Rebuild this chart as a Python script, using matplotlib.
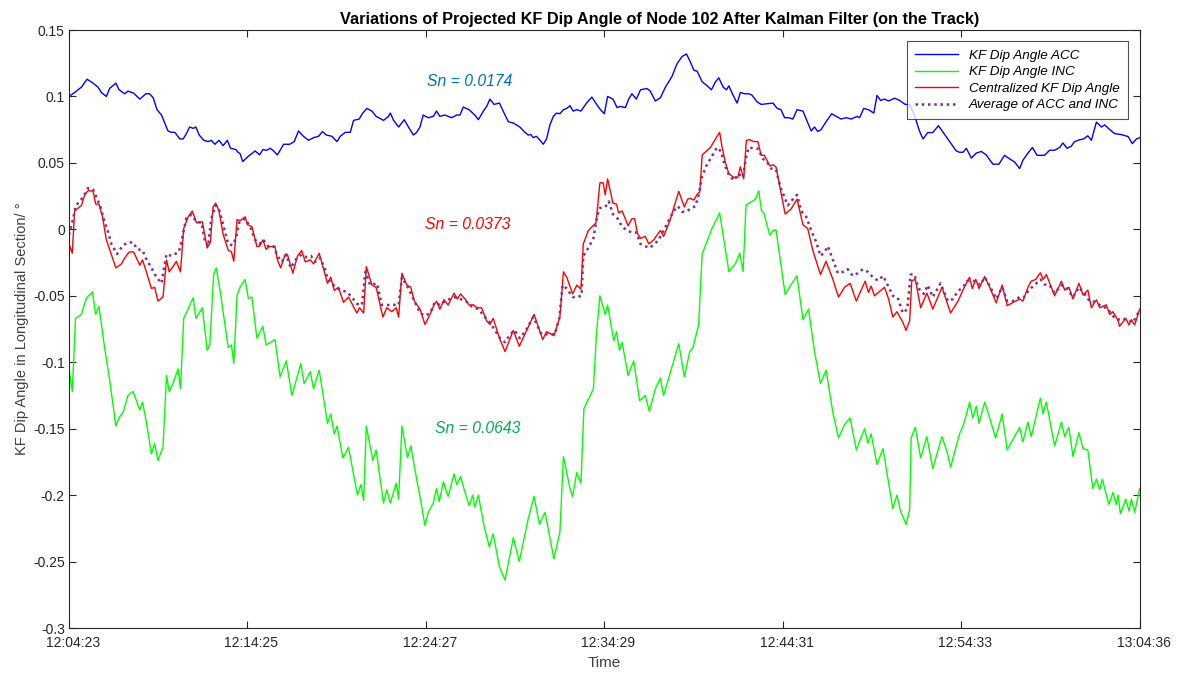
import matplotlib
matplotlib.use('Agg')
import matplotlib.pyplot as plt
import matplotlib.dates as mdates
import matplotlib.transforms as mtransforms
from datetime import datetime, timedelta

# seconds after 12:04:23
acc_t = [0, 19, 42, 61, 81, 98, 109, 126, 137, 158, 169, 188, 199, 218, 239, 259, 272, 284, 297, 312,
         334, 345, 357, 374, 385, 396, 407, 419, 428, 439, 455, 469, 480, 492, 506, 520, 534, 545, 563, 570,
         577, 586, 605, 628, 643, 654, 667, 679, 690, 703, 724, 744, 760, 774, 791, 808, 825, 842, 855, 868,
         887, 904, 915, 932, 949, 960, 979, 991, 1005, 1022, 1036, 1061, 1078, 1084, 1095, 1112, 1131, 1145, 1162, 1173,
         1184, 1195, 1212, 1229, 1240, 1251, 1268, 1291, 1308, 1319, 1330, 1350, 1369, 1381, 1398, 1409, 1420, 1434, 1452, 1471,
         1482, 1499, 1521, 1538, 1549, 1558, 1566, 1577, 1589, 1600, 1611, 1623, 1634, 1645, 1656, 1668, 1679, 1690, 1701, 1713,
         1727, 1746, 1764, 1777,
         1793, 1806, 1817, 1835, 1849, 1860, 1877, 1888, 1899, 1914, 1928, 1950, 1961, 1978, 1995, 2012, 2034, 2051, 2068, 2083,
         2094, 2108, 2119, 2136, 2153, 2167, 2181, 2192, 2207, 2218, 2226, 2240, 2254, 2265, 2280, 2293, 2304, 2321, 2335, 2355,
         2375, 2389,
         2402, 2414, 2427, 2442, 2456, 2476, 2487, 2504, 2515, 2526, 2537, 2554, 2573, 2588, 2605, 2622, 2639, 2659, 2667, 2681,
         2697, 2715, 2726, 2738, 2751, 2765, 2785, 2802, 2821, 2836, 2852, 2869, 2881, 2897, 2914, 2933, 2954, 2971, 2993, 3004,
         3016, 3027, 3044, 3061, 3078, 3094, 3117, 3137, 3156, 3173, 3190, 3207, 3218, 3235, 3250, 3266, 3291, 3308, 3325, 3342,
         3353, 3367, 3381, 3392, 3409, 3423, 3437, 3449, 3466, 3483, 3494, 3511, 3528, 3550, 3573, 3587, 3601, 3612]
acc_v = [0.100, 0.103, 0.107, 0.113, 0.110, 0.107, 0.103, 0.100, 0.106, 0.110, 0.105, 0.102, 0.104, 0.1025, 0.098, 0.102, 0.102, 0.099, 0.090, 0.086,
         0.074, 0.073, 0.073, 0.068, 0.068, 0.072, 0.077, 0.076, 0.077, 0.071, 0.067, 0.066, 0.067, 0.064, 0.067, 0.063, 0.067, 0.061, 0.060, 0.058,
         0.057, 0.051, 0.055, 0.059, 0.056, 0.060, 0.0595, 0.061, 0.059, 0.056, 0.064, 0.064, 0.066, 0.074, 0.070, 0.067, 0.069, 0.070, 0.0736, 0.071,
         0.070, 0.066, 0.070, 0.073, 0.073, 0.082, 0.083, 0.0875, 0.091, 0.089, 0.085, 0.082, 0.085, 0.0875, 0.082, 0.077, 0.0825, 0.077, 0.071, 0.073,
         0.077, 0.086, 0.084, 0.085, 0.089, 0.085, 0.086, 0.084, 0.086, 0.086, 0.092, 0.090, 0.086, 0.0825, 0.089, 0.0925, 0.098, 0.094, 0.095, 0.086,
         0.081, 0.080, 0.077, 0.073, 0.071, 0.0713, 0.069, 0.070, 0.067, 0.064, 0.068, 0.079, 0.085, 0.0875, 0.087, 0.090, 0.091, 0.093, 0.089, 0.090,
         0.089, 0.095, 0.0995, 0.095,
         0.090, 0.087, 0.100, 0.098, 0.0916, 0.0925, 0.0916, 0.098, 0.102, 0.098, 0.105, 0.106, 0.104, 0.0966, 0.099, 0.107, 0.115, 0.1245, 0.130, 0.132,
         0.127, 0.1197, 0.119, 0.111, 0.108, 0.105, 0.111, 0.114, 0.107, 0.105, 0.108, 0.101, 0.095, 0.103, 0.102, 0.102, 0.101, 0.096, 0.094, 0.0945,
         0.095, 0.091,
         0.090, 0.084, 0.084, 0.083, 0.090, 0.089, 0.083, 0.074, 0.077, 0.0736, 0.075, 0.081, 0.087, 0.085, 0.083, 0.084, 0.083, 0.085, 0.084, 0.091,
         0.090, 0.0875, 0.1008, 0.097, 0.098, 0.0966, 0.0987, 0.097, 0.094, 0.094, 0.086, 0.074, 0.068, 0.0728, 0.0728, 0.078, 0.0713, 0.066, 0.059, 0.058,
         0.058, 0.061, 0.0536, 0.0574, 0.0586, 0.056, 0.049, 0.049, 0.0557, 0.053, 0.0507, 0.0457, 0.052, 0.0574, 0.0616, 0.0557, 0.0557, 0.0595, 0.0595, 0.0616,
         0.065, 0.061, 0.0625, 0.066, 0.0674, 0.068, 0.0704, 0.067, 0.0807, 0.077, 0.0786, 0.075, 0.072, 0.0713, 0.0698, 0.0645, 0.068, 0.069]

inc_t = [0, 11, 22, 42, 58, 79, 90, 101, 120, 137, 158, 171, 182, 199, 216, 239, 248, 261, 278, 289,
         300, 317, 329, 338, 351, 368, 376, 387, 402, 419, 428, 450, 466, 475, 488, 497, 511, 537, 548, 556, 567,
         577, 594, 605, 617, 634, 654, 665, 695, 712, 733, 752, 782, 793, 814, 825, 844, 872, 883, 895, 904,
         924, 943, 973, 985, 994, 1003, 1025, 1036, 1061, 1072, 1084, 1104, 1112, 1123, 1142, 1153, 1176,
         1184, 1201, 1212, 1229, 1240, 1249, 1263, 1279, 1299, 1308, 1321, 1336, 1350, 1362, 1369, 1381, 1400, 1418, 1431, 1452,
         1471, 1499, 1519, 1549, 1569, 1587, 1606, 1636, 1656, 1668, 1690, 1699, 1713, 1727, 1737, 1752, 1769, 1780, 1791,
         1809, 1817, 1838, 1847, 1857, 1866, 1886, 1905, 1925, 1944, 1958, 1978, 1995, 2006, 2027, 2057, 2076, 2094, 2105, 2124,
         2136, 2169, 2195, 2226, 2248, 2263, 2274, 2284, 2304, 2316, 2327, 2336, 2344, 2364, 2375, 2385,
         2416, 2436, 2456, 2476, 2495, 2515, 2535, 2554, 2577, 2596, 2616, 2635, 2656, 2684, 2695, 2706, 2726, 2746, 2779, 2793,
         2805, 2824, 2836, 2841, 2855, 2873, 2894, 2914, 2945, 2963, 2974, 3004,
         3016, 3029, 3038, 3049, 3061, 3070, 3089, 3106, 3126, 3148, 3165, 3207, 3218, 3235, 3246, 3277, 3286, 3297, 3325, 3348,
         3359, 3373, 3387, 3407, 3421, 3437, 3454, 3466, 3477, 3486, 3508, 3522, 3533, 3539, 3547, 3565, 3576, 3584, 3595, 3612]
inc_v = [-0.105, -0.122, -0.067, -0.064, -0.052, -0.047, -0.064, -0.058, -0.089, -0.113, -0.148, -0.141, -0.138, -0.125, -0.122, -0.136, -0.130, -0.145, -0.169, -0.161,
         -0.174, -0.164, -0.110, -0.122, -0.116, -0.105, -0.120, -0.067, -0.060, -0.0515, -0.067, -0.059, -0.091, -0.087, -0.034, -0.029, -0.048, -0.089, -0.087, -0.101, -0.0495,
         -0.0436, -0.0377, -0.052, -0.051, -0.082, -0.073, -0.087, -0.083, -0.111, -0.099, -0.125, -0.101, -0.116, -0.107, -0.120, -0.106, -0.146, -0.139, -0.154, -0.148,
         -0.172, -0.164, -0.200, -0.192, -0.204, -0.148, -0.174, -0.166, -0.206, -0.196, -0.206, -0.191, -0.203, -0.148, -0.172, -0.163, -0.192,
         -0.201, -0.223, -0.213, -0.206, -0.195, -0.205, -0.190, -0.201, -0.184, -0.192, -0.186, -0.198, -0.208, -0.200, -0.209, -0.200, -0.223, -0.239, -0.229, -0.254,
         -0.264, -0.232, -0.250, -0.218, -0.201, -0.222, -0.213, -0.248, -0.228, -0.171, -0.195, -0.201, -0.183, -0.191, -0.135, -0.128, -0.120, -0.077, -0.050,
         -0.064, -0.057, -0.084, -0.077, -0.091, -0.085, -0.110, -0.099, -0.129, -0.125, -0.137, -0.120, -0.112, -0.125, -0.109, -0.086, -0.111, -0.092, -0.089, -0.072,
         -0.0186, 0.0006, 0.0124, -0.0318, -0.026, -0.018, -0.0318, 0.0183, 0.021, 0.0227, 0.029, 0.0138, 0.0124, -0.0044, -0.0009, -0.0003,
         -0.049, -0.0415, -0.035, -0.068, -0.060, -0.092, -0.116, -0.106, -0.138, -0.157, -0.147, -0.142, -0.166, -0.150, -0.161, -0.154, -0.177, -0.165, -0.210, -0.200,
         -0.212, -0.222, -0.211, -0.157, -0.149, -0.172, -0.156, -0.180, -0.156, -0.168, -0.179, -0.154,
         -0.148, -0.138, -0.130, -0.142, -0.133, -0.146, -0.130, -0.142, -0.157, -0.139, -0.166, -0.149, -0.160, -0.145, -0.156, -0.127, -0.139, -0.130, -0.163, -0.145,
         -0.156, -0.149, -0.171, -0.153, -0.165, -0.166, -0.195, -0.188, -0.196, -0.188, -0.207, -0.198, -0.207, -0.200, -0.214, -0.203, -0.212, -0.203, -0.213, -0.195]

cen_t = [0, 11, 19, 42, 53, 64, 81, 90, 101, 113, 126, 137, 158, 177, 188, 203, 218, 239, 248, 261,
         278, 289, 300, 317, 329, 338, 351, 362, 376, 387, 402, 416, 430, 450, 466, 477, 486, 495, 506, 520,
         537, 548, 556, 567,
         577, 586, 594, 602, 617, 634, 643, 654, 665, 676, 695, 703, 714, 729, 737, 755, 771, 785, 797, 814,
         825, 844, 872, 883, 895, 909, 926, 943, 971, 980, 994, 1003, 1022, 1036, 1059, 1072, 1089, 1104, 1112, 1123,
         1140, 1153, 1165,
         1184, 1201, 1218, 1231, 1240, 1251, 1265, 1279, 1299, 1310, 1321, 1336, 1350, 1364, 1377, 1392, 1409, 1420, 1431, 1454,
         1471, 1499, 1519, 1544, 1569, 1598, 1611, 1636, 1656, 1668, 1679, 1699, 1713, 1727, 1735, 1752, 1778, 1791,
         1802, 1809, 1817, 1835, 1847, 1854, 1866, 1886, 1899, 1908, 1918, 1928, 1944, 1956, 1972, 1995, 2006, 2027, 2057, 2076,
         2087, 2096, 2108, 2121, 2128, 2136, 2164, 2181, 2195, 2203, 2214, 2226, 2243, 2256, 2265, 2276, 2285, 2296, 2310, 2324,
         2335, 2346, 2364, 2375, 2385,
         2416, 2436, 2456, 2476, 2492, 2509, 2535, 2554, 2577, 2596, 2616, 2635, 2656, 2686, 2697, 2706, 2717, 2740, 2751, 2765,
         2779, 2793, 2813, 2824, 2836, 2843, 2855, 2873, 2894, 2914, 2945, 2974, 2999,
         3016, 3027, 3038, 3047, 3059, 3070, 3089, 3106, 3128, 3148, 3165, 3182, 3207, 3218, 3235, 3246, 3261, 3277, 3286, 3297,
         3325, 3348, 3359, 3373, 3387, 3407, 3421, 3437, 3449, 3466, 3477, 3499, 3511, 3522, 3539, 3544, 3565, 3576, 3584, 3595, 3612]
cen_v = [-0.011, -0.018, 0.0138, 0.018, 0.026, 0.029, 0.029, 0.019, 0.019, 0.0094, -0.008, -0.015, -0.029, -0.026, -0.0215, -0.017, -0.017, -0.027, -0.023, -0.032,
         -0.0445, -0.0436, -0.054, -0.051, -0.023, -0.032, -0.028, -0.024, -0.032, 0.0006, 0.0094, 0.0138, 0.005, 0.0056, -0.014, -0.0097, 0.0168, 0.0197, 0.0138, -0.0038,
         -0.0156, -0.017, -0.024, 0.0074,
         0.0065, 0.008, 0.0094, 0.0035, 0.002, -0.013, -0.0127, -0.008, -0.015, -0.013, -0.013, -0.023, -0.029, -0.019, -0.019, -0.033, -0.020, -0.016, -0.0245, -0.023,
         -0.026, -0.018, -0.0406, -0.036, -0.046, -0.0436, -0.055, -0.051, -0.063, -0.059, -0.063, -0.028, -0.042, -0.0436, -0.066, -0.059, -0.062, -0.059, -0.066, -0.033,
         -0.042, -0.0436, -0.054,
         -0.060, -0.0716, -0.064, -0.057, -0.054, -0.060, -0.053, -0.057, -0.048, -0.0524, -0.0486, -0.0524, -0.057, -0.0568, -0.059, -0.059, -0.069, -0.0716, -0.067, -0.083,
         -0.092, -0.076, -0.088, -0.076, -0.064, -0.083, -0.077, -0.080, -0.066, -0.032, -0.036, -0.0486, -0.042, -0.045, -0.011, -0.0009, 0.005, 0.035,
         0.035, 0.026, 0.038, 0.0197, 0.019, 0.0124, 0.0138, 0.0027, 0.008, 0.008, -0.0032, -0.0068, -0.0053, -0.011, -0.008, -0.0009, -0.0053, 0.0065, 0.0286, 0.0168,
         0.0227, 0.0233, 0.022, 0.027, 0.028, 0.056, 0.0616, 0.068, 0.073, 0.062, 0.0507, 0.0418, 0.039, 0.039, 0.047, 0.038, 0.0669, 0.0675, 0.066, 0.066,
         0.0557, 0.0557, 0.0477, 0.0486, 0.047,
         0.0115, 0.0153, 0.0227, 0.0035, 0.0006, -0.0156, -0.034, -0.024, -0.0377, -0.051, -0.0436, -0.0406, -0.054, -0.039, -0.0474, -0.0427, -0.050, -0.0457, -0.0436, -0.0524,
         -0.066, -0.062, -0.070, -0.076, -0.0686, -0.0386, -0.0377, -0.059, -0.048, -0.060, -0.0436, -0.063, -0.054,
         -0.0457, -0.0406, -0.036, -0.0445, -0.0377, -0.0445, -0.0356, -0.0436, -0.0554, -0.042, -0.0574, -0.0554, -0.0524, -0.054, -0.0436, -0.039, -0.0377, -0.0327, -0.0377, -0.034,
         -0.050, -0.039, -0.0457, -0.0436, -0.0524, -0.0406, -0.0495, -0.0457, -0.059, -0.053, -0.059, -0.0568, -0.064, -0.062, -0.0686, -0.073, -0.067, -0.072, -0.068, -0.072, -0.060]

avg_t = [0, 14, 23, 36, 50, 64, 81, 95, 106, 117, 132, 143, 162, 182, 199, 216, 230, 248, 259, 278,
         295, 312, 323, 329, 345, 357, 371, 383, 396, 413, 430, 447, 458, 469, 480, 495, 506, 522, 537, 551,
         563, 574,
         594, 611, 628, 643, 656, 673, 690, 703, 718, 733, 748, 769, 785, 802, 816, 830, 847, 864, 872, 892,
         915, 937, 954, 971, 988, 1000, 1016, 1039, 1055, 1072, 1095, 1112, 1123, 1145, 1162,
         1184, 1201, 1218, 1234, 1251, 1268, 1285, 1302, 1319, 1339, 1358, 1381, 1403, 1420, 1437, 1454, 1471, 1488, 1504, 1521,
         1544, 1566, 1594, 1617, 1639, 1654, 1665, 1679, 1699, 1713, 1729, 1735, 1752, 1769, 1782, 1791,
         1809, 1821, 1835, 1851, 1866, 1883, 1899, 1914, 1928, 1944, 1959, 1975, 1989, 2006, 2023, 2040, 2054, 2068, 2083, 2099,
         2113, 2124, 2136, 2150, 2169, 2186, 2200, 2211, 2226, 2243, 2259, 2274, 2282, 2293, 2310, 2327, 2338, 2355, 2369, 2385,
         2400,
         2425, 2442, 2456, 2470, 2487, 2504, 2521, 2535, 2549, 2560, 2577, 2594, 2611, 2627, 2644, 2661, 2678, 2695, 2712, 2729,
         2746, 2762, 2779, 2796, 2813, 2828, 2839, 2852, 2866, 2884, 2897, 2914, 2940, 2965, 2982, 2999,
         3016, 3029, 3044, 3059, 3074, 3089, 3106, 3128, 3148, 3165, 3184, 3207, 3220, 3241, 3257, 3277, 3291, 3308, 3325, 3348,
         3364, 3387, 3407, 3426, 3443, 3460, 3477, 3497, 3511, 3525, 3539, 3556, 3573, 3590, 3604, 3612]
avg_v = [-0.004, 0.008, 0.018, 0.021, 0.025, 0.031, 0.030, 0.023, 0.017, 0.008, -0.002, -0.011, -0.0186, -0.012, -0.010, -0.0097, -0.015, -0.0156, -0.0215, -0.029,
         -0.036, -0.0406, -0.026, -0.0186, -0.020, -0.0186, -0.017, -0.0053, 0.0085, 0.011, 0.0056, 0.005, -0.008, -0.0127, 0.008, 0.018, 0.0153, 0.002, -0.011, -0.012,
         -0.007, 0.005,
         0.008, 0.002, -0.008, -0.011, -0.008, -0.013, -0.0127, -0.020, -0.0245, -0.019, -0.029, -0.0215, -0.019, -0.021, -0.020, -0.0245, -0.0215, -0.030, -0.037, -0.042,
         -0.0457, -0.047, -0.051, -0.056, -0.057, -0.032, -0.042, -0.0406, -0.0568, -0.057, -0.0568, -0.057, -0.036, -0.0445, -0.0524,
         -0.063, -0.065, -0.063, -0.055, -0.057, -0.054, -0.0524, -0.051, -0.0524, -0.054, -0.058, -0.060, -0.066, -0.070, -0.076, -0.082, -0.085, -0.079, -0.076, -0.082,
         -0.075, -0.066, -0.079, -0.079, -0.079, -0.067, -0.042, -0.0445, -0.051, -0.051, -0.050, -0.020, -0.014, -0.0068, 0.0103, 0.016,
         0.0168, 0.021, 0.0115, 0.008, 0.002, -0.0009, -0.0024, -0.0024, -0.011, -0.0127, -0.014, -0.011, -0.008, -0.0009, 0.0065, 0.0138, 0.0174, 0.0133, 0.0133, 0.016,
         0.0174, 0.0256, 0.040, 0.0477, 0.055, 0.0616, 0.0586, 0.049, 0.041, 0.0368, 0.0418, 0.039, 0.052, 0.0616, 0.061, 0.0604, 0.0536, 0.0507, 0.0457, 0.045,
         0.0315,
         0.018, 0.0227, 0.026, 0.0138, 0.0094, -0.0009, -0.0097, -0.020, -0.017, -0.0127, -0.023, -0.033, -0.032, -0.030, -0.035, -0.033, -0.030, -0.032, -0.036, -0.0386,
         -0.035, -0.042, -0.050, -0.0515, -0.063, -0.060, -0.034, -0.034, -0.0445, -0.0486, -0.042, -0.051, -0.0406, -0.054, -0.0524, -0.0465,
         -0.0436, -0.039, -0.0386, -0.039, -0.042, -0.036, -0.0427, -0.0524, -0.0436, -0.054, -0.054, -0.051, -0.0515, -0.045, -0.042, -0.0377, -0.0415, -0.042, -0.048, -0.042,
         -0.0436, -0.051, -0.0436, -0.0486, -0.054, -0.0545, -0.057, -0.059, -0.062, -0.066, -0.068, -0.067, -0.0686, -0.070, -0.064, -0.061]

tick_sec = [0, 602, 1204, 1806, 2408, 3010, 3613]
yticks = [0.15, 0.1, 0.05, 0, -0.05, -0.1, -0.15, -0.2, -0.25, -0.3]
ytick_labels = ['0.15', '0.1', '0.05', '0', '-0.05', '-0.1', '-0.15', '-0.2', '-0.25', '-0.3']

sn_labels = ['Sn = 0.0174', 'Sn = 0.0373', 'Sn = 0.0643']
sn_pos = [(1353, 0.1115), (1346, 0.004), (1380, -0.150)]
sn_colors = ['#0070C0', '#FF0000', '#00B050']

start = datetime(2020, 1, 1, 12, 4, 23)
def to_time(secs):
    return [start + timedelta(seconds=s) for s in secs]

plt.rcParams['font.family'] = ['Liberation Sans', 'DejaVu Sans']
axcol = '#262626'

fig = plt.figure(figsize=(11.79, 6.75), dpi=100)
ax = fig.add_axes([69/1179, 1-628/675, (1140-69)/1179, 598/675])

ax.plot(to_time(acc_t), acc_v, color='#0000FF', lw=1.0, label='KF Dip Angle ACC')
ax.plot(to_time(inc_t), inc_v, color='#00FF00', lw=1.0, label='KF Dip Angle INC')
ax.plot(to_time(cen_t), cen_v, color='#FF0000', lw=1.0, label='Centralized KF Dip Angle')
ax.plot(to_time(avg_t), avg_v, color='#7E2F8E', lw=1.8, linestyle=(0, (1, 1.5)), label='Average of ACC and INC')

for txt, (tx, ty), c in zip(sn_labels, sn_pos, sn_colors):
    ax.text(start + timedelta(seconds=tx), ty, txt, color=c, fontsize=11.3, style='italic',
            ha='center', va='center')

ax.set_xlim(start, start + timedelta(seconds=tick_sec[-1]))
ax.set_ylim(-0.3, 0.15)
ax.set_xticks(to_time(tick_sec))
ax.xaxis.set_major_formatter(mdates.DateFormatter('%H:%M:%S'))
ax.set_yticks(yticks)
ax.set_yticklabels(ytick_labels)
ax.tick_params(direction='in', length=5, width=0.8, colors=axcol, labelsize=10,
               top=True, right=True)
ax.tick_params(axis='x', pad=6)
ax.tick_params(axis='y', pad=3)
shift = mtransforms.ScaledTranslation(4/100, 0, fig.dpi_scale_trans)
for lab in ax.get_xticklabels():
    lab.set_transform(lab.get_transform() + shift)
for sp in ax.spines.values():
    sp.set_color(axcol)
    sp.set_linewidth(0.8)

ax.set_title('Variations of Projected KF Dip Angle of Node 102 After Kalman Filter (on the Track)',
             fontsize=11.7, fontweight='bold', color='black', x=(660-69)/1071, pad=4)
ax.set_xlabel('Time', fontsize=11, color='#404040', labelpad=4)
ax.set_ylabel('KF Dip Angle in Longitudinal Section/ °', fontsize=10.5, color='#404040', labelpad=3)

leg = ax.legend(loc='upper right', bbox_to_anchor=(0.9888, 0.981), fontsize=9.7, frameon=True,
                fancybox=False, edgecolor='#262626', borderpad=0.6, handlelength=3.2,
                labelspacing=0.3, handletextpad=0.85, borderaxespad=0)
leg.get_frame().set_linewidth(0.8)
for t in leg.get_texts():
    t.set_style('italic')

fig.savefig('out.png', dpi=100)
